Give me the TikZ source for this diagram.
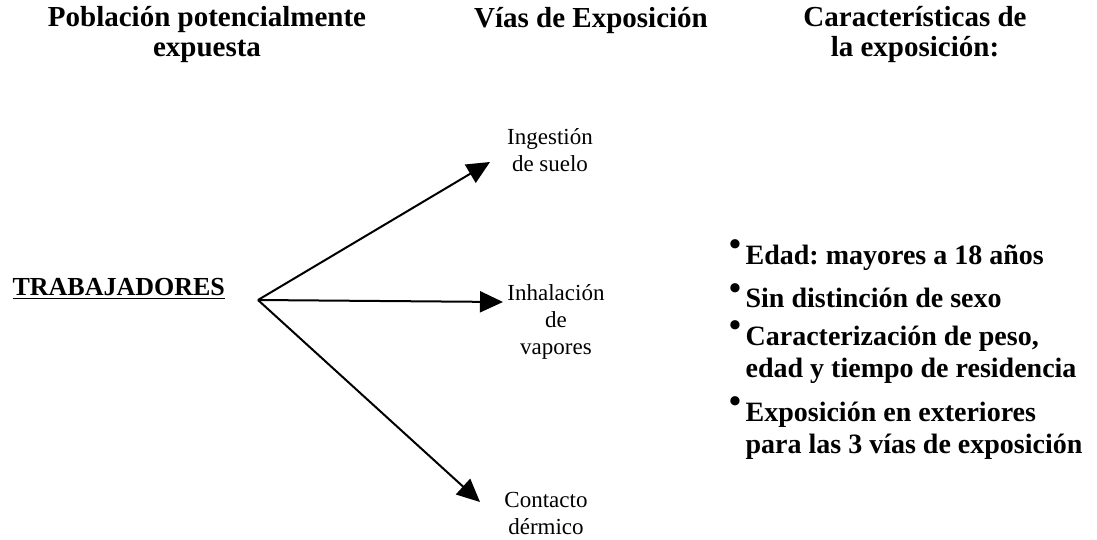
\documentclass[tikz,border=0pt]{standalone}
\usepackage{fontspec}
\setmainfont{Liberation Serif}
\usetikzlibrary{arrows.meta}
\def\bul{\raisebox{0.3em}{\fontsize{17}{17}\selectfont\textbullet}\,}

\begin{document}
\begin{tikzpicture}[x=0.5pt,y=-0.5pt,
	head/.style={font=\fontsize{14.5}{15}\selectfont\bfseries,align=center},
	via/.style={font=\fontsize{11.5}{13.5}\selectfont,align=center},
	item/.style={font=\fontsize{14}{14.5}\selectfont\bfseries\frenchspacing,align=left,anchor=west},
	ray/.style={line width=1pt,-{Triangle[length=11.5pt,width=10.5pt]}}]
				\useasboundingbox (0,0) rectangle (1097,540);
				
				%column titles
				\node[head] (pob) at (207,35){Población potencialmente\\expuesta};
				\node[head] (vias) at (591,21){Vías de Exposición};
				\node[head] (car) at (915,35){Características de\\la exposición:};
				
				\node[head,font=\fontsize{13}{15}\selectfont\bfseries,anchor=base east] (trab) at (232,295){\underline{TRABAJADORES}};
				\coordinate (hub) at (258,300);
				\coordinate (tipA) at (490,162);
				\coordinate (tipB) at (503,302);
				\coordinate (tipC) at (480,502);
				 
				%exposure routes
				\draw[ray] (hub) -- (tipA);
				\draw[ray] (hub) -- (tipB);
				\draw[ray] (hub) -- (tipC);
				\node[via] (ing) at (550,150){Ingestión\\de suelo};
				\node[via] (inh) at (556,322){Inhalación\\de\\vapores};
				\node[via] (con) at (546,513){Contacto\\dérmico};
				
				\node[item] (edad) at (722,255){\bul Edad: mayores a 18 años};
				\node[item] (sexo) at (722,296){\bul Sin distinción de sexo};
				\node[item] (peso) at (722,352){\bul Caracterización de peso,\\\phantom{\bul}edad y tiempo de residencia};
				\node[item] (ext) at (722,428){\bul Exposición en exteriores\\\phantom{\bul}para las 3 vías de exposición};
			\end{tikzpicture}
\end{document}
